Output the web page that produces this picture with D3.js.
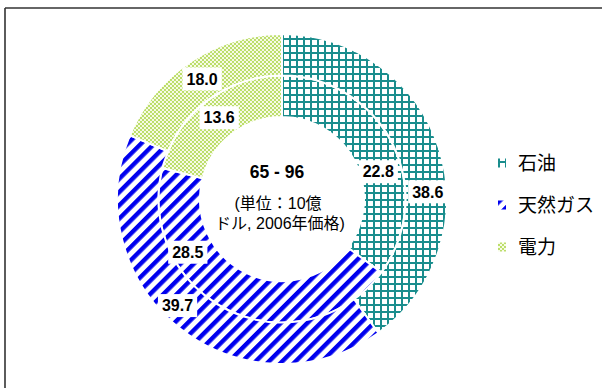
<!DOCTYPE html>
<html>
<head>
<meta charset="utf-8">
<script src="https://cdn.jsdelivr.net/npm/d3@7"></script>
<style>
  html, body { margin: 0; padding: 0; background: #ffffff; }
  svg { display: block; }
  text { font-family: "Liberation Sans", Arial, "Noto Sans CJK JP", sans-serif; }
</style>
</head>
<body>
<script>
// Energy categories and the two periods shown as nested doughnut rings
const categories = ["石油", "天然ガス", "電力"];
const innerValues = [22.8, 28.5, 13.6];   // inner ring
const outerValues = [38.6, 39.7, 18.0];   // outer ring
const centerTitle = "65 - 96";
const unitLines = ["(単位：10億", "ドル, 2006年価格)"];

const W = 602, H = 388;
const cx = 282, cy = 199;
const outerR = 165, holeR = 82;

const svg = d3.select("body").append("svg")
  .attr("width", W).attr("height", H);

// Fill patterns for each category
const defs = svg.append("defs");

const pOil = defs.append("pattern").attr("id", "pat-oil")
  .attr("patternUnits", "userSpaceOnUse").attr("width", 7).attr("height", 7);
pOil.append("rect").attr("width", 7).attr("height", 7).attr("fill", "#ffffff");
pOil.append("rect").attr("x", 0).attr("y", 0).attr("width", 2).attr("height", 7).attr("fill", "#1a8d8d");
pOil.append("rect").attr("x", 0).attr("y", 0).attr("width", 7).attr("height", 2).attr("fill", "#1a8d8d");

const pGas = defs.append("pattern").attr("id", "pat-gas")
  .attr("patternUnits", "userSpaceOnUse").attr("width", 9.4).attr("height", 9.4)
  .attr("patternTransform", "rotate(45)");
pGas.append("rect").attr("width", 9.4).attr("height", 9.4).attr("fill", "#ffffff");
pGas.append("rect").attr("x", 0).attr("y", 0).attr("width", 4.4).attr("height", 9.4).attr("fill", "#0000ee");

const pEl = defs.append("pattern").attr("id", "pat-el")
  .attr("patternUnits", "userSpaceOnUse").attr("width", 4).attr("height", 4);
pEl.append("rect").attr("width", 4).attr("height", 4).attr("fill", "#f6fbe6");
pEl.append("circle").attr("cx", 1).attr("cy", 1).attr("r", 0.9).attr("fill", "#a2d030");
pEl.append("circle").attr("cx", 3).attr("cy", 3).attr("r", 0.9).attr("fill", "#a2d030");

const color = d3.scaleOrdinal()
  .domain(categories)
  .range(["url(#pat-oil)", "url(#pat-gas)", "url(#pat-el)"]);

// Frame lines
svg.append("line").attr("x1", 5).attr("y1", 8).attr("x2", W).attr("y2", 8)
  .attr("stroke", "#333333").attr("stroke-width", 1.6);
svg.append("line").attr("x1", 5).attr("y1", 8).attr("x2", 5).attr("y2", H)
  .attr("stroke", "#333333").attr("stroke-width", 1.6);

// Ring radii from a linear scale: ring 0 = inner, ring 1 = outer
const ringScale = d3.scaleLinear().domain([0, 2]).range([holeR, outerR]);

const pie = d3.pie().sort(null).value(d => d.value);

const rings = [innerValues, outerValues].map((vals, ri) => ({
  ring: ri,
  slices: pie(vals.map((v, i) => ({ cat: categories[i], value: v, ring: ri })))
}));

// Hand-placed label nudges (dx, dy) relative to the slice centroid
const labelNudge = [
  [[4.5, 19], [-50, -39.5], [0, 0]],
  [[8.4, 37], [-14.7, -6.3], [0, 0]]
];

const g = svg.append("g").attr("transform", `translate(${cx},${cy})`);

rings.forEach(r => {
  const arc = d3.arc()
    .innerRadius(ringScale(r.ring))
    .outerRadius(ringScale(r.ring + 1));
  g.append("g").selectAll("path")
    .data(r.slices)
    .join("path")
    .attr("d", arc)
    .attr("fill", d => color(d.data.cat))
    .attr("stroke", "#ffffff")
    .attr("stroke-width", 2);
  r.arc = arc;
});

// Value labels in white boxes
rings.forEach(r => {
  r.slices.forEach((d, i) => {
    const [x0, y0] = r.arc.centroid(d);
    const [dx, dy] = labelNudge[r.ring][i];
    const lg = g.append("g").attr("transform", `translate(${x0 + dx},${y0 + dy})`);
    const t = lg.append("text")
      .attr("text-anchor", "middle")
      .attr("dy", "0.36em")
      .attr("font-size", 16)
      .attr("font-weight", "bold")
      .attr("fill", "#000000")
      .text(d3.format(".1f")(d.data.value));
    const bb = t.node().getBBox();
    lg.insert("rect", "text")
      .attr("x", bb.x - 4).attr("y", -11.5)
      .attr("width", bb.width + 8).attr("height", 23)
      .attr("fill", "#ffffff");
  });
});

// Centre text
g.append("text")
  .attr("x", -5).attr("y", -27)
  .attr("text-anchor", "middle").attr("dy", "0.36em")
  .attr("font-size", 17.5).attr("font-weight", "bold")
  .text(centerTitle);
unitLines.forEach((s, i) => {
  g.append("text")
    .attr("x", -4 + i * 2).attr("y", 4 + i * 20)
    .attr("text-anchor", "middle").attr("dy", "0.36em")
    .attr("font-size", 16)
    .text(s);
});

// Legend
const legend = svg.append("g").attr("transform", "translate(498,0)");
const legendY = d3.scalePoint().domain(categories).range([163, 247]);
categories.forEach(c => {
  const y = legendY(c);
  legend.append("rect")
    .attr("x", 0).attr("y", y - 4.5)
    .attr("width", 8).attr("height", 9)
    .attr("fill", color(c));
  legend.append("text")
    .attr("x", 20).attr("y", y)
    .attr("dy", "0.36em")
    .attr("font-size", 19)
    .attr("fill", "#000000")
    .text(c);
});
</script>
</body>
</html>
